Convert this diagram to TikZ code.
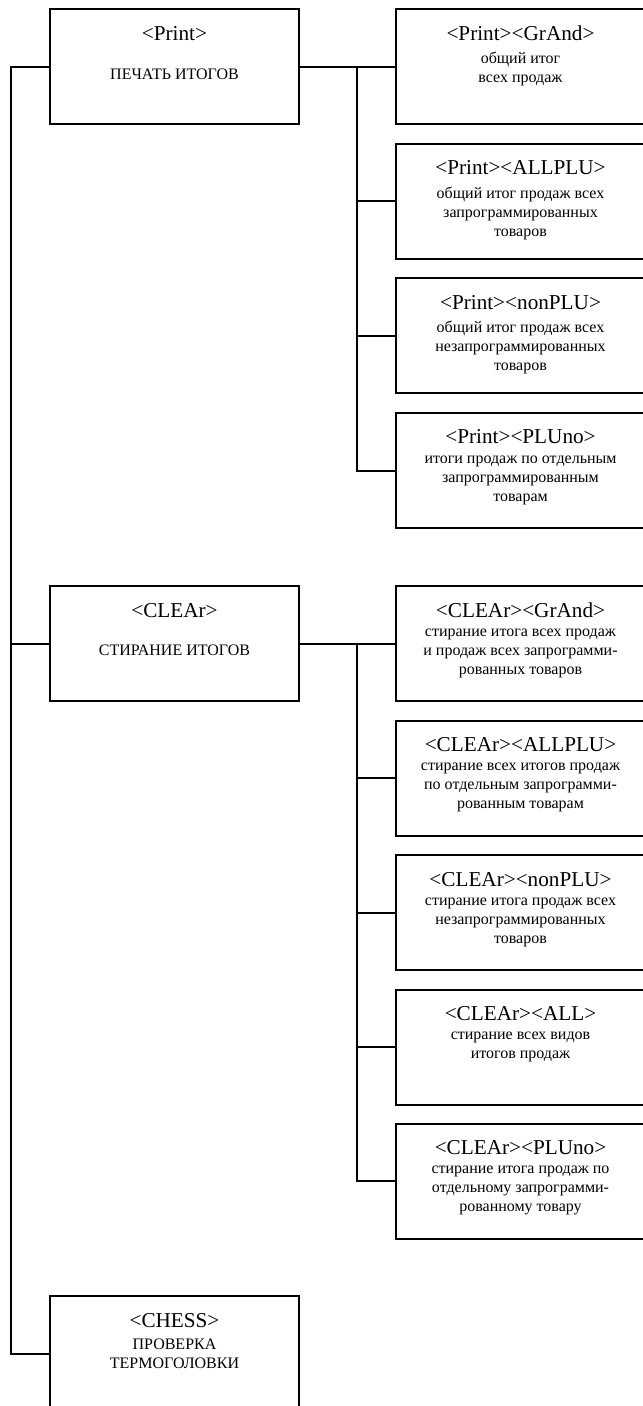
\documentclass[tikz,border=0pt]{standalone}
\usepackage{fontspec}
\setmainfont{Liberation Serif}
\usetikzlibrary{positioning}

\begin{document}
\begin{tikzpicture}[
  x=0.5pt, y=-0.5pt,
  line width=1pt,
  box/.style={
    draw, minimum width=124.5pt, minimum height=57.5pt,
    inner sep=0pt, outer sep=0pt
  },
  ttl/.style={inner sep=0pt, font=\fontsize{10.6}{12}\selectfont, text height=7pt, text depth=2pt},
  desc/.style={inner sep=0pt, align=center, font=\fontsize{8}{9.5}\selectfont}
]

  \useasboundingbox (0,0) rectangle (642,1406);

  % --- LEFT COLUMN ---
  \node [box] (print) at (174.5,67) {};
  \node [ttl, below=8pt of print.north] (print-t) {<Print>};
  \node [desc, below=11.2pt of print-t] (print-d) {ПЕЧАТЬ ИТОГОВ};

  \node [box] (clear) at (174.5,643.5) {};
  \node [ttl, below=8pt of clear.north] (clear-t) {<CLEAr>};
  \node [desc, below=11.2pt of clear-t] (clear-d) {СТИРАНИЕ ИТОГОВ};

  \node [box] (chess) at (174.5,1353.5) {};
  \node [ttl, below=8pt of chess.north] (chess-t) {<CHESS>};
  \node [desc, below=2.8pt of chess-t] (chess-d) {ПРОВЕРКА\\ТЕРМОГОЛОВКИ};

  % --- PRINT GROUP ---
  \node [box] (pgrand) at (520.5,67) {};
  \node [ttl, below=8pt of pgrand.north] (pgrand-t) {<Print><GrAnd>};
  \node [desc, below=2.8pt of pgrand-t] (pgrand-d) {общий итог\\всех продаж};

  \node [box] (pallplu) at (520.5,201.5) {};
  \node [ttl, below=8pt of pallplu.north] (pallplu-t) {<Print><ALLPLU>};
  \node [desc, below=2.8pt of pallplu-t] (pallplu-d) {общий итог продаж всех\\запрограммированных\\товаров};

  \node [box] (pnonplu) at (520.5,336) {};
  \node [ttl, below=8pt of pnonplu.north] (pnonplu-t) {<Print><nonPLU>};
  \node [desc, below=2.8pt of pnonplu-t] (pnonplu-d) {общий итог продаж всех\\незапрограммированных\\товаров};

  \node [box] (ppluno) at (520.5,470.5) {};
  \node [ttl, below=8pt of ppluno.north] (ppluno-t) {<Print><PLUno>};
  \node [desc, below=2.8pt of ppluno-t] (ppluno-d) {итоги продаж по отдельным\\запрограммированным\\товарам};

  % --- CLEAR GROUP ---
  \node [box] (cgrand) at (520.5,643.5) {};
  \node [ttl, below=8pt of cgrand.north] (cgrand-t) {<CLEAr><GrAnd>};
  \node [desc, below=2.8pt of cgrand-t] (cgrand-d) {стирание итога всех продаж\\и продаж всех запрограмми-\\рованных товаров};

  \node [box] (callplu) at (520.5,778) {};
  \node [ttl, below=8pt of callplu.north] (callplu-t) {<CLEAr><ALLPLU>};
  \node [desc, below=2.8pt of callplu-t] (callplu-d) {стирание всех итогов продаж\\по отдельным запрограмми-\\рованным товарам};

  \node [box] (cnonplu) at (520.5,912.5) {};
  \node [ttl, below=8pt of cnonplu.north] (cnonplu-t) {<CLEAr><nonPLU>};
  \node [desc, below=2.8pt of cnonplu-t] (cnonplu-d) {стирание итога продаж всех\\незапрограммированных\\товаров};

  \node [box] (call) at (520.5,1047) {};
  \node [ttl, below=8pt of call.north] (call-t) {<CLEAr><ALL>};
  \node [desc, below=2.8pt of call-t] (call-d) {стирание всех видов\\итогов продаж};

  \node [box] (cpluno) at (520.5,1181) {};
  \node [ttl, below=8pt of cpluno.north] (cpluno-t) {<CLEAr><PLUno>};
  \node [desc, below=2.8pt of cpluno-t] (cpluno-d) {стирание итога продаж по\\отдельному запрограмми-\\рованному товару};

  % --- CONNECTORS ---
  \coordinate (trunk) at (11,67);
  \coordinate (pbus) at (357,67);
  \coordinate (cbus) at (357,643.5);

  \draw (print.west) -- (trunk) -- (trunk |- chess.west) -- (chess.west);
  \draw (trunk |- clear.west) -- (clear.west);

  \draw (print.east) -- (pgrand.west);
  \draw (pbus) -- (pbus |- ppluno.west) -- (ppluno.west);
  \draw (pbus |- pallplu.west) -- (pallplu.west);
  \draw (pbus |- pnonplu.west) -- (pnonplu.west);

  \draw (clear.east) -- (cgrand.west);
  \draw (cbus) -- (cbus |- cpluno.west) -- (cpluno.west);
  \draw (cbus |- callplu.west) -- (callplu.west);
  \draw (cbus |- cnonplu.west) -- (cnonplu.west);
  \draw (cbus |- call.west) -- (call.west);

\end{tikzpicture}
\end{document}
